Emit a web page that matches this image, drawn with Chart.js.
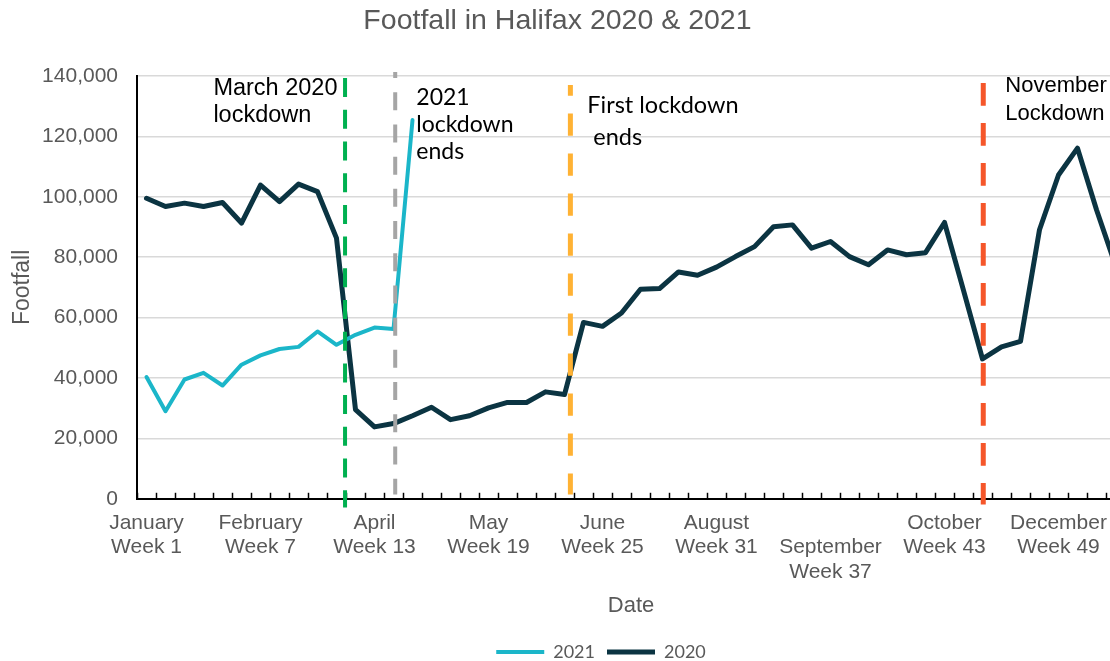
<!DOCTYPE html>
<html lang="en">
<head>
<meta charset="utf-8">
<title>Footfall in Halifax 2020 &amp; 2021</title>
<script src="https://cdn.jsdelivr.net/npm/chart.js@4.4.1/dist/chart.umd.min.js"></script>
<style>
  html, body { margin: 0; padding: 0; background: #ffffff; overflow: hidden; }
  #cadre { width: 1202px; height: 661px; }
</style>
</head>
<body>
<div id="cadre"><canvas id="graphique"></canvas></div>
<script>
// Données (une valeur par semaine)
const semaines = [
    1, 2, 3, 4, 5, 6, 7, 8, 9, 10, 11, 12, 13, 14, 15, 16, 17, 18, 19, 20, 21, 22, 23, 24, 25, 26,
    27, 28, 29, 30, 31, 32, 33, 34, 35, 36, 37, 38, 39, 40, 41, 42, 43, 44, 45, 46, 47, 48, 49, 50, 51, 52
];
const semainesAffichees = [1, 7, 13, 19, 25, 31, 37, 43, 49];
const moisAffiches = ["January", "February", "April", "May", "June", "August", "September", "October", "December"];

const footfall2021 = [40300, 29000, 39500, 41700, 37500, 44400, 47500, 49600, 50300, 55400, 51000, 54300, 56700, 56200, 125400];
const footfall2020 = [
    99500, 96800, 97900, 96800, 98100, 91300, 103900, 98400, 104200, 101700, 86300, 29500, 23800,
    24900, 27500, 30300, 26200, 27500, 30100, 31900, 31900, 35400, 34500, 58400, 57100, 61500,
    69400, 69600, 75100, 74000, 76700, 80200, 83500, 90100, 90700, 83000, 85200, 80200, 77500,
    82400, 80800, 81500, 91500, 69000, 46300, 50300, 52100, 89100, 107200, 116100, 95700, 77300
];

// Lignes de confinement (indice de semaine, hauteur en footfall)
const lignesVerticales = [
    { indice: 10.45, haut: 139300, bas: -2900, couleur: '#00B050', epaisseur: 4, tirets: [19, 12.7], decalage: 0 },
    { indice: 13.09, haut: 141300, bas: 1400, couleur: '#A5A5A5', epaisseur: 4, tirets: [18, 14.2], decalage: 12 },
    { indice: 22.31, haut: 137000, bas: 1400, couleur: '#FFB234', epaisseur: 5, tirets: [22.3, 17.7], decalage: 11.5 },
    { indice: 44.04, haut: 137700, bas: -1900, couleur: '#F5562A', epaisseur: 5, tirets: [22.7, 17.3], decalage: 0 }
];

const notes = [
    { lignes: ['March 2020', 'lockdown'], indice: 3.52, valeur: 135700, police: '23.5px "Liberation Sans"', interligne: 27 },
    { lignes: ['2021', 'lockdown', 'ends'], indice: 14.2, valeur: 132700, police: '23px Lato', interligne: 27 },
    { lignes: ['First lockdown', ' ends'], indice: 23.2, valeur: 130100, police: '23.5px Lato', interligne: 32 },
    { lignes: ['November', 'Lockdown'], indice: 45.2, valeur: 136700, police: '22px "Liberation Sans"', interligne: 28 }
];

const GRIS = '#595959';
Chart.defaults.font.family = '"Liberation Sans", Arial, sans-serif';

// Annotations dessinées par-dessus les courbes
const annotations = {
    id: 'annotations',
    afterDatasetsDraw(chart) {
        let ctx = chart.ctx;
        let x = chart.scales.x;
        let y = chart.scales.y;
        ctx.save();
        for (let l of lignesVerticales) {
            let px = x.getPixelForValue(l.indice);
            ctx.beginPath();
            ctx.setLineDash(l.tirets);
            ctx.lineDashOffset = l.decalage;
            ctx.strokeStyle = l.couleur;
            ctx.lineWidth = l.epaisseur;
            ctx.moveTo(px, y.getPixelForValue(l.haut));
            ctx.lineTo(px, y.getPixelForValue(l.bas));
            ctx.stroke();
        }
        ctx.setLineDash([]);
        ctx.fillStyle = '#000000';
        ctx.textAlign = 'left';
        ctx.textBaseline = 'middle';
        for (let n of notes) {
            ctx.font = n.police;
            let px = x.getPixelForValue(n.indice);
            let py = y.getPixelForValue(n.valeur);
            for (let i = 0; i < n.lignes.length; i++) {
                ctx.fillText(n.lignes[i], px, py + i * n.interligne);
            }
        }
        ctx.restore();
    }
};

function etiquetteSemaine(valeur, index) {
    let k = semainesAffichees.indexOf(semaines[index]);
    if (k < 0) return '';
    let texte = 'Week ' + semaines[index];
    if (semaines[index] === 37) return ['', moisAffiches[k], texte];
    return [moisAffiches[k], texte];
}

new Chart(document.getElementById('graphique'), {
    type: 'line',
    data: {
        labels: semaines,
        datasets: [
            { label: '2021', data: footfall2021, borderColor: '#1BB6C9', backgroundColor: '#1BB6C9', borderWidth: 4,
              pointRadius: 0, tension: 0, borderJoinStyle: 'round', borderCapStyle: 'round' },
            { label: '2020', data: footfall2020, borderColor: '#0B3442', backgroundColor: '#0B3442', borderWidth: 5,
              pointRadius: 0, tension: 0, borderJoinStyle: 'round', borderCapStyle: 'round' }
        ]
    },
    options: {
        responsive: true,
        maintainAspectRatio: false,
        animation: false,
        layout: { padding: { bottom: -10 } },
        plugins: {
            title: {
                display: true,
                text: 'Footfall in Halifax 2020 & 2021           ',
                color: GRIS,
                font: { size: 28.5, weight: 'normal' },
                padding: { top: 4, bottom: 37.8 }
            },
            legend: {
                position: 'bottom',
                labels: {
                    usePointStyle: true, pointStyle: 'line', pointStyleWidth: 48,
                    color: GRIS, font: { family: 'Lato', size: 18 }, padding: 12
                }
            },
            tooltip: { enabled: false }
        },
        scales: {
            x: {
                offset: true,
                grid: { display: true, drawOnChartArea: false, offset: true, tickLength: -6, tickColor: '#000000', tickWidth: 1.5 },
                border: { color: '#000000', width: 2 },
                ticks: {
                    autoSkip: false, maxRotation: 0, minRotation: 0, padding: 18, color: GRIS,
                    font: { size: 21, lineHeight: 1.167 },
                    callback: etiquetteSemaine
                },
                title: { display: true, text: 'Date', color: GRIS, font: { size: 22 }, padding: { top: -9.5, bottom: 11.8 } }
            },
            y: {
                min: 0, max: 140000,
                ticks: {
                    stepSize: 20000, padding: 19, color: GRIS, font: { size: 21 },
                    callback: function (v) { return v.toLocaleString('en-US'); }
                },
                grid: { color: '#D9D9D9', lineWidth: 1.5, drawTicks: false },
                border: { color: '#000000', width: 2 },
                title: { display: true, text: 'Footfall', color: GRIS, font: { size: 23 }, padding: { top: 9, bottom: 0 } },
                afterFit: function (s) { s.width = 137; }
            },
            marge: {
                type: 'linear', position: 'right', display: true,
                grid: { display: false }, ticks: { display: false }, border: { display: false },
                afterFit: function (s) { s.width = 77; }
            }
        }
    },
    plugins: [annotations]
});
</script>
</body>
</html>
